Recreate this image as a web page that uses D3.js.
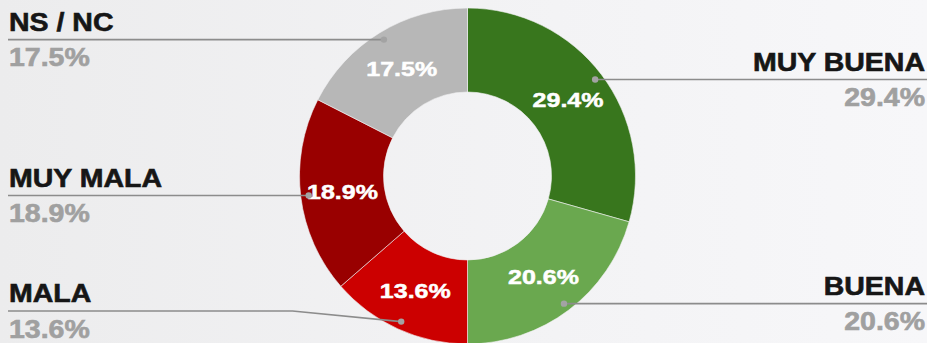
<!DOCTYPE html>
<html>
<head>
<meta charset="utf-8">
<script src="https://cdn.jsdelivr.net/npm/d3@7/dist/d3.min.js"></script>
<style>
  html, body { margin: 0; padding: 0; background: #f1f1f3; }
  svg { display: block; }
  text { font-family: "Liberation Sans", Arial, sans-serif; font-weight: bold; }
</style>
</head>
<body>
<div id="chart"></div>
<script>
// Survey answers, in clockwise order from 12 o'clock
const categories = ["MUY BUENA", "BUENA", "MALA", "MUY MALA", "NS / NC"];
const values = [29.4, 20.6, 13.6, 18.9, 17.5];
const colors = ["#38761d", "#6aa84f", "#cc0000", "#990000", "#b7b7b7"];

const W = 927, H = 343;
const cx = 467.5, cy = 176;
const outerR = 168, innerR = 84, dotR = 160;
const sx = 1.14;        // horizontal stretch applied to the side labels
const sxIn = 1.22;      // horizontal stretch applied to the slice labels

const fmt = v => v.toFixed(1) + "%";

const svg = d3.select("#chart").append("svg")
  .attr("width", W).attr("height", H);

const defs = svg.append("defs");
const grad = defs.append("linearGradient").attr("id", "bg")
  .attr("x1", "0%").attr("x2", "100%").attr("y1", "0%").attr("y2", "0%");
grad.append("stop").attr("offset", "0%").attr("stop-color", "#ececed");
grad.append("stop").attr("offset", "60%").attr("stop-color", "#f3f3f5");
grad.append("stop").attr("offset", "100%").attr("stop-color", "#f7f7f9");
svg.append("rect").attr("width", W).attr("height", H).attr("fill", "url(#bg)");

const data = categories.map((c, i) => ({ name: c, value: values[i], color: colors[i] }));

const pie = d3.pie().sort(null).value(d => d.value);
const arcs = pie(data);
const arc = d3.arc().innerRadius(innerR).outerRadius(outerR);
const dotArc = d3.arc().innerRadius(dotR).outerRadius(dotR);

const g = svg.append("g").attr("transform", `translate(${cx},${cy})`);

// donut slices
g.selectAll("path.slice").data(arcs).join("path")
  .attr("class", "slice")
  .attr("d", arc)
  .attr("fill", d => d.data.color)
  .attr("stroke", "#f2f2f4")
  .attr("stroke-width", 0.6);

// percentage inside each slice
g.selectAll("g.inlabel").data(arcs).join("g")
  .attr("class", "inlabel")
  .attr("transform", d => { const [x, y] = arc.centroid(d); return `translate(${x},${y}) scale(${sxIn},1)`; })
  .append("text")
  .attr("text-anchor", "middle")
  .attr("dy", "0.35em")
  .attr("font-size", 20.5)
  .attr("fill", "#ffffff")
  .attr("stroke", "#ffffff")
  .attr("stroke-width", 0.5)
  .text(d => fmt(d.data.value));

// leader lines and side labels
const maxLineY = H - 32;
const lead = arcs.map(d => {
  const [dx, dy] = dotArc.centroid(d);
  const px = cx + dx, py = cy + dy;
  const right = px > cx;
  const ly = Math.min(py, maxLineY);
  const pts = [[px, py]];
  if (ly !== py) pts.push([right ? cx + outerR + 7 : cx - outerR - 7, ly]);
  pts.push([right ? W : 8, ly]);
  return { d, px, py, ly, right, pts };
});

const line = d3.line();
svg.selectAll("path.leader").data(lead).join("path")
  .attr("class", "leader")
  .attr("d", l => line(l.pts))
  .attr("fill", "none")
  .attr("stroke", "#8c8c8c")
  .attr("stroke-width", 1.6);

svg.selectAll("circle.dot").data(lead).join("circle")
  .attr("class", "dot")
  .attr("cx", l => l.px).attr("cy", l => l.py)
  .attr("r", 3.2)
  .attr("fill", "#a3a3a3");

const side = svg.selectAll("g.side").data(lead).join("g").attr("class", "side");

side.append("g")
  .attr("transform", l => `translate(${l.right ? 925 : 9},${l.ly - 8.7}) scale(${sx},1)`)
  .append("text")
  .attr("text-anchor", l => l.right ? "end" : "start")
  .attr("font-size", 25)
  .attr("fill", "#161616")
  .attr("stroke", "#161616")
  .attr("stroke-width", 0.6)
  .text(l => l.d.data.name);

side.append("g")
  .attr("transform", l => `translate(${l.right ? 925 : 9},${l.ly + 26.5}) scale(${sx},1)`)
  .append("text")
  .attr("text-anchor", l => l.right ? "end" : "start")
  .attr("font-size", 25)
  .attr("fill", "#a0a0a0")
  .attr("stroke", "#a0a0a0")
  .attr("stroke-width", 0.6)
  .text(l => fmt(l.d.data.value));
</script>
</body>
</html>
